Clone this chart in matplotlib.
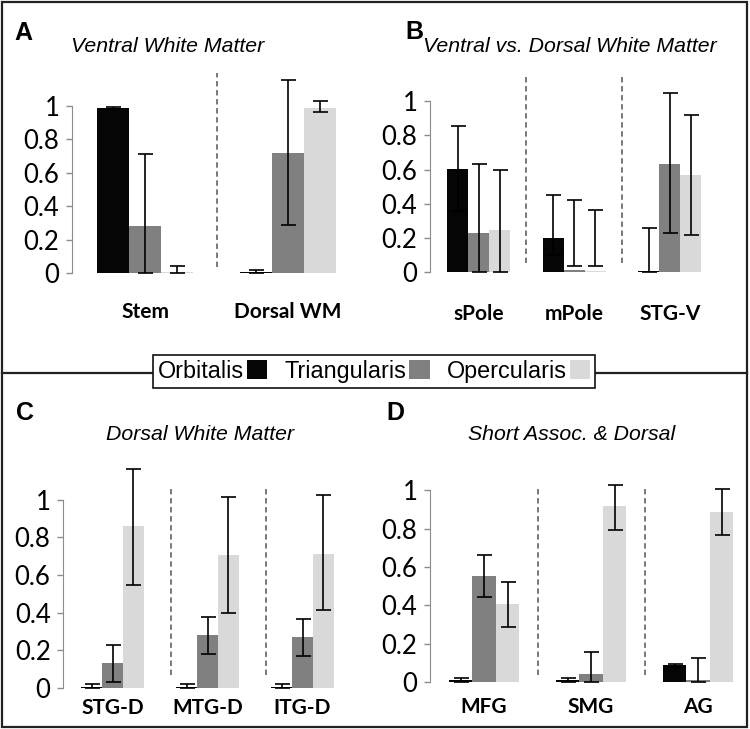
import numpy as np
import matplotlib
matplotlib.use("Agg")
import matplotlib.pyplot as plt
from matplotlib.patches import Patch, Rectangle
from matplotlib.lines import Line2D

# series names / colours
series = ["Orbitalis", "Triangularis", "Opercularis"]
colors = ["#050505", "#808080", "#d9d9d9"]

# Panel A - Ventral White Matter
a_cats = ["Stem", "Dorsal WM"]
a_orb = [0.99, 0.005]
a_orb_lo = [0.985, 0.0]
a_orb_hi = [0.995, 0.015]
a_tri = [0.28, 0.72]
a_tri_lo = [0.0, 0.29]
a_tri_hi = [0.71, 1.157]
a_ope = [0.005, 0.99]
a_ope_lo = [0.0, 0.962]
a_ope_hi = [0.04, 1.028]

# Panel B - Ventral vs. Dorsal White Matter
b_cats = ["sPole", "mPole", "STG-V"]
b_orb = [0.605, 0.20, 0.005]
b_orb_lo = [0.36, 0.10, 0.0]
b_orb_hi = [0.853, 0.449, 0.26]
b_tri = [0.23, 0.01, 0.635]
b_tri_lo = [0.0, 0.035, 0.23]
b_tri_hi = [0.635, 0.42, 1.049]
b_ope = [0.248, 0.005, 0.566]
b_ope_lo = [0.0, 0.035, 0.219]
b_ope_hi = [0.596, 0.361, 0.922]

# Panel C - Dorsal White Matter
c_cats = ["STG-D", "MTG-D", "ITG-D"]
c_orb = [0.005, 0.005, 0.005]
c_orb_lo = [0.0, 0.0, 0.0]
c_orb_hi = [0.02, 0.02, 0.02]
c_tri = [0.133, 0.281, 0.271]
c_tri_lo = [0.032, 0.181, 0.172]
c_tri_hi = [0.228, 0.379, 0.368]
c_ope = [0.859, 0.708, 0.713]
c_ope_lo = [0.549, 0.398, 0.412]
c_ope_hi = [1.163, 1.014, 1.023]

# Panel D - Short Assoc. & Dorsal
d_cats = ["MFG", "SMG", "AG"]
d_orb = [0.012, 0.012, 0.087]
d_orb_lo = [0.0, 0.0, 0.08]
d_orb_hi = [0.021, 0.021, 0.094]
d_tri = [0.551, 0.043, 0.012]
d_tri_lo = [0.443, 0.0, 0.0]
d_tri_hi = [0.662, 0.157, 0.125]
d_ope = [0.407, 0.917, 0.885]
d_ope_lo = [0.287, 0.795, 0.765]
d_ope_hi = [0.523, 1.03, 1.007]

yticks = [0, 0.2, 0.4, 0.6, 0.8, 1]
ytick_labels = ["0", "0.2", "0.4", "0.6", "0.8", "1"]

W, H = 750, 729
fig = plt.figure(figsize=(W / 100, H / 100), dpi=100)


def panel(ax_x, y0, unit, width, bw, c0, sp, frac, dash, lab_pad, cats, means, los, his):
    ax = fig.add_axes([ax_x / W, (H - y0) / H, width / W, 1.2 * unit / H])
    centers = c0 + sp * np.arange(len(cats))
    for k in range(3):
        x = centers + (k - 1) * bw
        m = np.array(means[k])
        lo = np.array(los[k])
        hi = np.array(his[k])
        ax.bar(x, m, width=bw, color=colors[k], zorder=2)
        ax.errorbar(x, (lo + hi) / 2, yerr=(hi - lo) / 2, fmt="none", ecolor="black",
                    elinewidth=1.2, capsize=5.4, capthick=1.2, zorder=3)
    for i in range(len(cats) - 1):
        xd = c0 + (i + frac) * sp
        ax.plot([xd, xd], dash, ls=(0, (3, 2)), color="#6e6e6e", lw=1.3, clip_on=False)
    ax.set_xlim(0, width)
    ax.set_ylim(0, 1.2)
    for s in ["top", "right", "bottom"]:
        ax.spines[s].set_visible(False)
    ax.spines["left"].set_bounds(0, 1)
    ax.spines["left"].set_color("#8c8c8c")
    ax.set_yticks(yticks)
    ax.set_yticklabels(ytick_labels, fontfamily="Lato", fontsize=18.5)
    ax.tick_params(axis="y", direction="out", length=4, width=1, color="#8c8c8c", pad=5)
    ax.set_xticks(centers)
    ax.set_xticklabels(cats, fontfamily="Lato", fontweight="bold", fontsize=15)
    ax.tick_params(axis="x", length=0, pad=lab_pad)
    ax.patch.set_alpha(0)
    return ax


panel(72, 273, 167, 300, 31.7, 73, 143, 0.5, (0.036, 1.2), 21,
      a_cats, [a_orb, a_tri, a_ope], [a_orb_lo, a_tri_lo, a_ope_lo], [a_orb_hi, a_tri_hi, a_ope_hi])
panel(430, 272, 170.7, 310, 21, 48.5, 95.7, 0.5, (0.05, 1.146), 23,
      b_cats, [b_orb, b_tri, b_ope], [b_orb_lo, b_tri_lo, b_ope_lo], [b_orb_hi, b_tri_hi, b_ope_hi])
panel(63, 688, 188.3, 309, 20.7, 49.5, 95, 0.616, (0.07, 1.07), 7.5,
      c_cats, [c_orb, c_tri, c_ope], [c_orb_lo, c_tri_lo, c_ope_lo], [c_orb_hi, c_tri_hi, c_ope_hi])
panel(430, 682, 191.7, 310, 23.5, 54, 107, 0.5, (0.037, 1.02), 11,
      d_cats, [d_orb, d_tri, d_ope], [d_orb_lo, d_tri_lo, d_ope_lo], [d_orb_hi, d_tri_hi, d_ope_hi])


def ftext(x, y, s, **kw):
    fig.text(x / W, 1 - y / H, s, **kw)


title_kw = dict(fontfamily="Liberation Sans", fontstyle="italic", fontsize=15.3, ha="center", va="center")
ftext(168, 47, "Ventral White Matter", **title_kw)
ftext(570, 47, "Ventral vs. Dorsal White Matter", **title_kw)
ftext(200, 435, "Dorsal White Matter", **title_kw)
ftext(572, 435, "Short Assoc. & Dorsal", **title_kw)

letter_kw = dict(fontfamily="Liberation Sans", fontweight="bold", fontsize=18, ha="left", va="center")
ftext(14, 33, "A", **letter_kw)
ftext(405, 32, "B", **letter_kw)
ftext(16, 413, "C", **letter_kw)
ftext(386, 413, "D", **letter_kw)

# outer frame and divider
fig.patches.append(Rectangle((2 / W, 2 / H), 745 / W, 725 / H, transform=fig.transFigure,
                             fill=False, edgecolor="#222222", lw=1.6))
fig.lines.append(Line2D([2 / W, 747 / W], [1 - 373 / H, 1 - 373 / H], transform=fig.transFigure,
                        color="#222222", lw=1.6))

handles = [Patch(facecolor=c, edgecolor="none") for c in colors]
leg = fig.legend(handles, series, ncol=3, loc="center", bbox_to_anchor=(374 / W, 1 - 371.5 / H),
                 frameon=True, fancybox=False, edgecolor="#111111", framealpha=1, markerfirst=False,
                 handlelength=0.87, handleheight=0.87, handletextpad=0.12, columnspacing=0.75,
                 borderpad=0.2, borderaxespad=0, prop={"family": "Liberation Sans", "size": 16.8})
leg.get_frame().set_linewidth(1.2)

fig.savefig("out.png", dpi=100)
